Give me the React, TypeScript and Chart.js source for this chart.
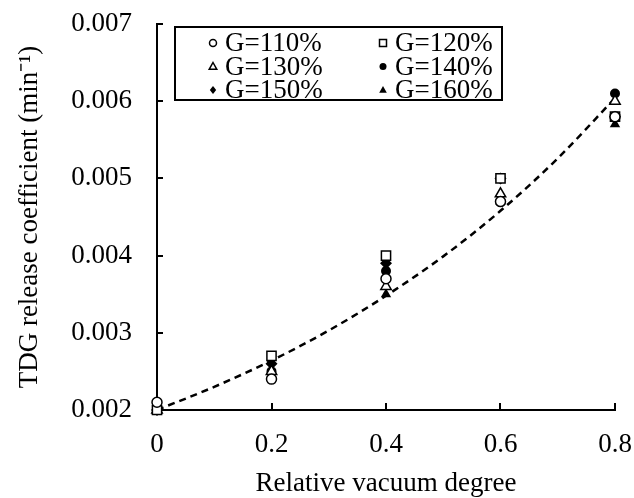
import { useEffect, useRef } from 'react';
import { Chart, registerables } from 'chart.js';

Chart.register(...registerables);

// Measured release coefficients (min^-1) against relative vacuum degree
const vacuumDegree = [0, 0.2, 0.4, 0.6, 0.8];
const g110 = [0.0021, 0.0024, 0.0037, 0.0047, 0.0058];
const g120 = [0.002, 0.0027, 0.004, 0.005, 0.0058];
const g130 = [0.002, 0.0025, 0.0036, 0.0048, 0.006];
const g140 = [0.002, 0.0025, 0.0038, 0.005, 0.0061];
const g150 = [0.002, 0.0026, 0.0039, 0.005, 0.0058];
const g160 = [0.002, 0.0025, 0.0035, 0.0047, 0.0057];

// Fitted trend line
const fitX = [0, 0.1, 0.2, 0.3, 0.4, 0.5, 0.6, 0.7, 0.8];
const fitY = [0.002, 0.0023, 0.00264, 0.00303, 0.00348, 0.00399, 0.00458, 0.00526, 0.00604];

const seriesNames = ['G=110%', 'G=120%', 'G=130%', 'G=140%', 'G=150%', 'G=160%'];
const seriesValues = [g110, g120, g130, g140, g150, g160];
const markerStyles = ['circle', 'rect', 'triangle', 'circle', 'rectRot', 'triangle'];
const markerFilled = [false, false, false, true, true, true];
const markerRadius = [5, 6.5, 6, 5, 6, 6];

const xTickValues = [0, 0.2, 0.4, 0.6, 0.8];
const yTickValues = [0.002, 0.003, 0.004, 0.005, 0.006, 0.007];

const FONT = "'Liberation Serif', 'Times New Roman', serif";

function drawMarker(ctx: CanvasRenderingContext2D, style: string, filled: boolean, x: number, y: number, r: number) {
  ctx.save();
  ctx.beginPath();
  if (style === 'circle') {
    ctx.arc(x, y, r, 0, Math.PI * 2);
  } else if (style === 'rect') {
    ctx.rect(x - r, y - r, 2 * r, 2 * r);
  } else if (style === 'triangle') {
    ctx.moveTo(x, y - r);
    ctx.lineTo(x + r * 0.95, y + r * 0.7);
    ctx.lineTo(x - r * 0.95, y + r * 0.7);
    ctx.closePath();
  } else if (style === 'rectRot') {
    ctx.moveTo(x, y - r);
    ctx.lineTo(x + r * 0.8, y);
    ctx.lineTo(x, y + r);
    ctx.lineTo(x - r * 0.8, y);
    ctx.closePath();
  }
  if (filled) {
    ctx.fillStyle = '#000';
    ctx.fill();
  } else {
    ctx.fillStyle = '#fff';
    ctx.fill();
    ctx.lineWidth = 1.5;
    ctx.strokeStyle = '#000';
    ctx.stroke();
  }
  ctx.restore();
}

// Boxed two-column legend in the upper left of the plot
const boxLegend = {
  id: 'boxLegend',
  afterDraw(chart: any) {
    const ctx: CanvasRenderingContext2D = chart.ctx;
    const left = 175;
    const top = 27;
    const width = 327;
    const height = 73;
    ctx.save();
    ctx.fillStyle = '#fff';
    ctx.fillRect(left, top, width, height);
    ctx.lineWidth = 2;
    ctx.strokeStyle = '#000';
    ctx.strokeRect(left, top, width, height);
    ctx.font = `27px ${FONT}`;
    ctx.textBaseline = 'middle';
    ctx.textAlign = 'left';
    ctx.fillStyle = '#000';
    seriesNames.forEach((name, i) => {
      const col = i % 2;
      const row = Math.floor(i / 2);
      const mx = left + 38 + col * 170;
      const my = top + 16 + row * 23.5;
      const r = markerStyles[i] === 'rect' ? 3.5 : markerStyles[i] === 'circle' ? 3.5 : 4;
      drawMarker(ctx, markerStyles[i], markerFilled[i], mx, my, r);
      ctx.fillStyle = '#000';
      ctx.fillText(name, mx + 12, my + 1);
    });
    ctx.restore();
  },
};

// Short tick marks pointing into the plot area
const innerTicks = {
  id: 'innerTicks',
  afterDraw(chart: any) {
    const ctx: CanvasRenderingContext2D = chart.ctx;
    const xs = chart.scales.x;
    const ys = chart.scales.y;
    const area = chart.chartArea;
    ctx.save();
    ctx.strokeStyle = '#000';
    ctx.lineWidth = 2;
    ctx.beginPath();
    xTickValues.slice(1).forEach((v) => {
      const px = Math.round(xs.getPixelForValue(v));
      ctx.moveTo(px, area.bottom);
      ctx.lineTo(px, area.bottom - 7);
    });
    yTickValues.slice(1).forEach((v) => {
      const py = Math.round(ys.getPixelForValue(v));
      ctx.moveTo(area.left, py);
      ctx.lineTo(area.left + 6, py);
    });
    ctx.stroke();
    ctx.restore();
  },
};

export default function App() {
  const canvasRef = useRef<HTMLCanvasElement | null>(null);

  useEffect(() => {
    const canvas = canvasRef.current;
    if (!canvas) return;

    const pointSets = seriesValues.map((vals, i) => ({
      type: 'scatter' as const,
      label: seriesNames[i],
      data: vacuumDegree.map((x, j) => ({ x, y: vals[j] })),
      pointStyle: markerStyles[i],
      pointRadius: markerRadius[i],
      pointBackgroundColor: markerFilled[i] ? '#000' : '#fff',
      pointBorderColor: '#000',
      pointBorderWidth: markerFilled[i] ? 0 : 1.5,
      showLine: false,
      clip: false,
    }));

    const fitSet = {
      type: 'line' as const,
      label: 'fit',
      data: fitX.map((x, j) => ({ x, y: fitY[j] })),
      borderColor: '#000',
      borderWidth: 2.5,
      borderDash: [7, 5],
      pointRadius: 0,
      cubicInterpolationMode: 'monotone' as const,
      fill: false,
      clip: false,
      order: 10,
    };

    const chart = new Chart(canvas, {
      type: 'scatter',
      data: { datasets: [...pointSets, fitSet] as any },
      options: {
        responsive: false,
        animation: false,
        events: [],
        layout: { padding: { top: 24, right: 19, left: 0, bottom: 0 } },
        plugins: {
          legend: { display: false },
          tooltip: { enabled: false },
        },
        scales: {
          x: {
            type: 'linear',
            min: 0,
            max: 0.8,
            afterFit: (s: any) => {
              s.height = 88;
              s.paddingLeft = 0;
              s.paddingRight = 0;
            },
            afterBuildTicks: (s: any) => { s.ticks = xTickValues.map((v) => ({ value: v })); },
            grid: { display: false, drawTicks: false },
            border: { display: true, color: '#000', width: 2 },
            ticks: {
              color: '#000',
              font: { family: FONT, size: 27 },
              padding: 19,
              callback: (v: any) => (v === 0 ? '0' : Number(v).toFixed(1)),
            },
            title: {
              display: true,
              text: 'Relative vacuum degree',
              color: '#000',
              font: { family: FONT, size: 27 },
              padding: { top: 0, bottom: -2 },
            },
          },
          y: {
            type: 'linear',
            min: 0.002,
            max: 0.007,
            afterFit: (s: any) => {
              s.width = 157;
              s.paddingTop = 0;
              s.paddingBottom = 0;
            },
            afterBuildTicks: (s: any) => { s.ticks = yTickValues.map((v) => ({ value: v })); },
            grid: { display: false, drawTicks: false },
            border: { display: true, color: '#000', width: 2 },
            ticks: {
              color: '#000',
              font: { family: FONT, size: 27 },
              padding: 25,
              callback: (v: any) => Number(v).toFixed(3),
            },
            title: {
              display: true,
              text: 'TDG release coefficient (min\u207B\u00B9)',
              color: '#000',
              font: { family: FONT, size: 27 },
              padding: { top: 14, bottom: 0 },
            },
          },
        },
      },
      plugins: [innerTicks, boxLegend],
    });

    return () => chart.destroy();
  }, []);

  return (
    <div style={{ position: 'absolute', left: 0, top: 0, width: 634, height: 498, background: '#fff' }}>
      <canvas ref={canvasRef} width={634} height={498} />
    </div>
  );
}
